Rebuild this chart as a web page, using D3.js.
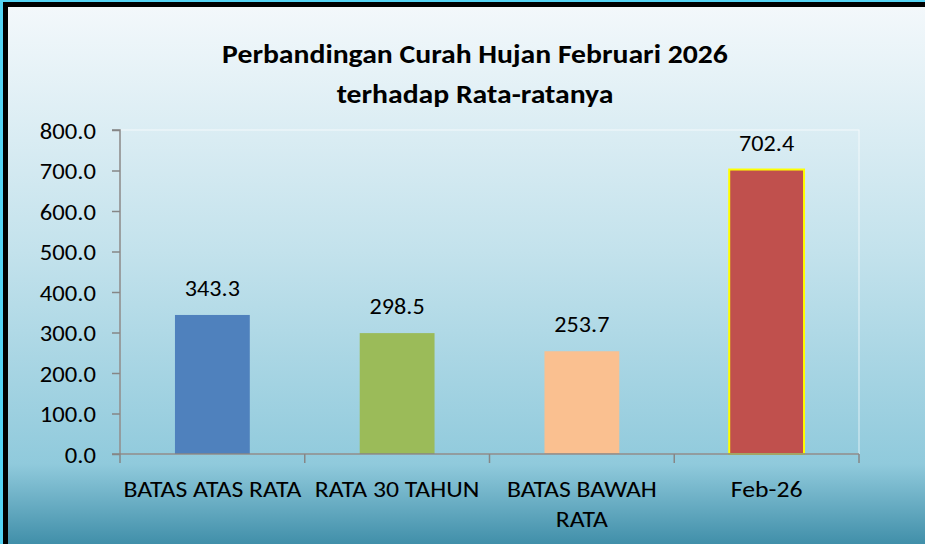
<!DOCTYPE html>
<html><head><meta charset="utf-8">
<script src="https://cdn.jsdelivr.net/npm/d3@7"></script>
<style>html,body{margin:0;padding:0;overflow:hidden;background:#fff}</style>
</head><body>
<script>
const categories = ["BATAS ATAS RATA", "RATA 30 TAHUN", "BATAS BAWAH RATA", "Feb-26"];
const values = [343.3, 298.5, 253.7, 702.4];
const barColors = ["#4f81bd", "#9bbb59", "#fac090", "#c0504d"];
const yTicks = [0, 100, 200, 300, 400, 500, 600, 700, 800];
const titleLines = ["Perbandingan Curah Hujan Februari 2026", "terhadap Rata-ratanya"];
const xLabelLines = [["BATAS ATAS RATA"], ["RATA 30 TAHUN"], ["BATAS BAWAH", "RATA"], ["Feb-26"]];

const W = 925, H = 544;
const FONT = "Carlito, Calibri, Lato, sans-serif";
const svg = d3.select("body").append("svg").attr("width", W).attr("height", H);

const defs = svg.append("defs");
const g = defs.append("linearGradient").attr("id", "bg").attr("x1", 0).attr("y1", 0).attr("x2", 0).attr("y2", 1);
g.append("stop").attr("offset", "0").attr("stop-color", "#f3f8fb");
g.append("stop").attr("offset", "0.45").attr("stop-color", "#c3e2ec");
g.append("stop").attr("offset", "0.84").attr("stop-color", "#90cadc");
g.append("stop").attr("offset", "1").attr("stop-color", "#3a8aa5");

// outer cyan & black frame
svg.append("rect").attr("x", 0).attr("y", 0).attr("width", W).attr("height", H).attr("fill", "#55d4f4");
svg.append("rect").attr("x", 3).attr("y", 2).attr("width", W).attr("height", H).attr("fill", "#000");
svg.append("rect").attr("x", 8).attr("y", 7).attr("width", W).attr("height", H).attr("fill", "url(#bg)");

const pLeft = 120, pRight = 859, pTop = 130, pBottom = 454;
const y = d3.scaleLinear().domain([0, 800]).range([pBottom, pTop]);
const x = d3.scaleBand().domain(categories).range([pLeft, pRight]).padding(0);
const barW = x.bandwidth() * 0.405;

// stretched text helper (reference font is horizontally wide)
function place(sel, fx, fy, sx) {
  sel.attr("x", 0).attr("y", 0)
    .attr("transform", (d, i) => `translate(${fx(d, i)},${fy(d, i)}) scale(${sx},1)`);
}

// plot area faint border
svg.append("rect").attr("x", pLeft).attr("y", pTop).attr("width", pRight - pLeft).attr("height", pBottom - pTop)
  .attr("fill", "none").attr("stroke", "rgba(255,255,255,0.7)").attr("stroke-width", 1);

// title
svg.append("g").selectAll("text").data(titleLines).join("text")
  .attr("text-anchor", "middle").attr("font-family", FONT).attr("font-weight", "bold")
  .attr("font-size", 27).attr("fill", "#000").text(d => d)
  .call(place, () => 475, (d, i) => 63 + i * 40, 1.1);

// bars
svg.append("g").selectAll("rect").data(values).join("rect")
  .attr("x", (d, i) => x(categories[i]) + (x.bandwidth() - barW) / 2)
  .attr("y", d => y(d))
  .attr("width", barW)
  .attr("height", d => y(0) - y(d))
  .attr("fill", (d, i) => barColors[i])
  .attr("stroke", (d, i) => i === 3 ? "#ffff00" : "none")
  .attr("stroke-width", 2);

// value labels
svg.append("g").selectAll("text").data(values).join("text")
  .attr("text-anchor", "middle").attr("font-family", FONT).attr("font-size", 23).attr("fill", "#000")
  .text(d => d.toFixed(1))
  .call(place, (d, i) => x(categories[i]) + x.bandwidth() / 2, d => y(d) - 19, 1.05);

// y axis
const yAxis = svg.append("g").attr("transform", `translate(${pLeft},0)`)
  .call(d3.axisLeft(y).tickValues(yTicks).tickSize(8).tickPadding(16).tickFormat(d3.format(".1f")));
yAxis.selectAll("line,path").attr("stroke", "#868686").attr("stroke-width", 1.5);
yAxis.select("path").attr("d", `M-8,${pTop}H0V${pBottom}`);
yAxis.selectAll("text").attr("font-family", FONT).attr("font-size", 22).attr("fill", "#000")
  .attr("dy", null)
  .call(place, () => -24, () => 8, 1.12);

// x axis
const xg = svg.append("g");
xg.append("line").attr("x1", pLeft - 8).attr("x2", pRight).attr("y1", pBottom).attr("y2", pBottom)
  .attr("stroke", "#868686").attr("stroke-width", 1.5);
const bounds = categories.map(c => x(c)).concat([x.range()[1]]);
xg.selectAll("line.t").data(bounds).join("line").attr("class", "t")
  .attr("x1", d => d).attr("x2", d => d).attr("y1", pBottom).attr("y2", pBottom + 9)
  .attr("stroke", "#868686").attr("stroke-width", 1.5);

categories.forEach((c, i) => {
  xg.append("g").selectAll("text").data(xLabelLines[i]).join("text")
    .attr("text-anchor", "middle").attr("font-family", FONT).attr("font-size", 22).attr("fill", "#000")
    .text(d => d)
    .call(place, () => x(c) + x.bandwidth() / 2, (d, j) => 497 + j * 30, 1.17);
});
</script>
</body></html>
